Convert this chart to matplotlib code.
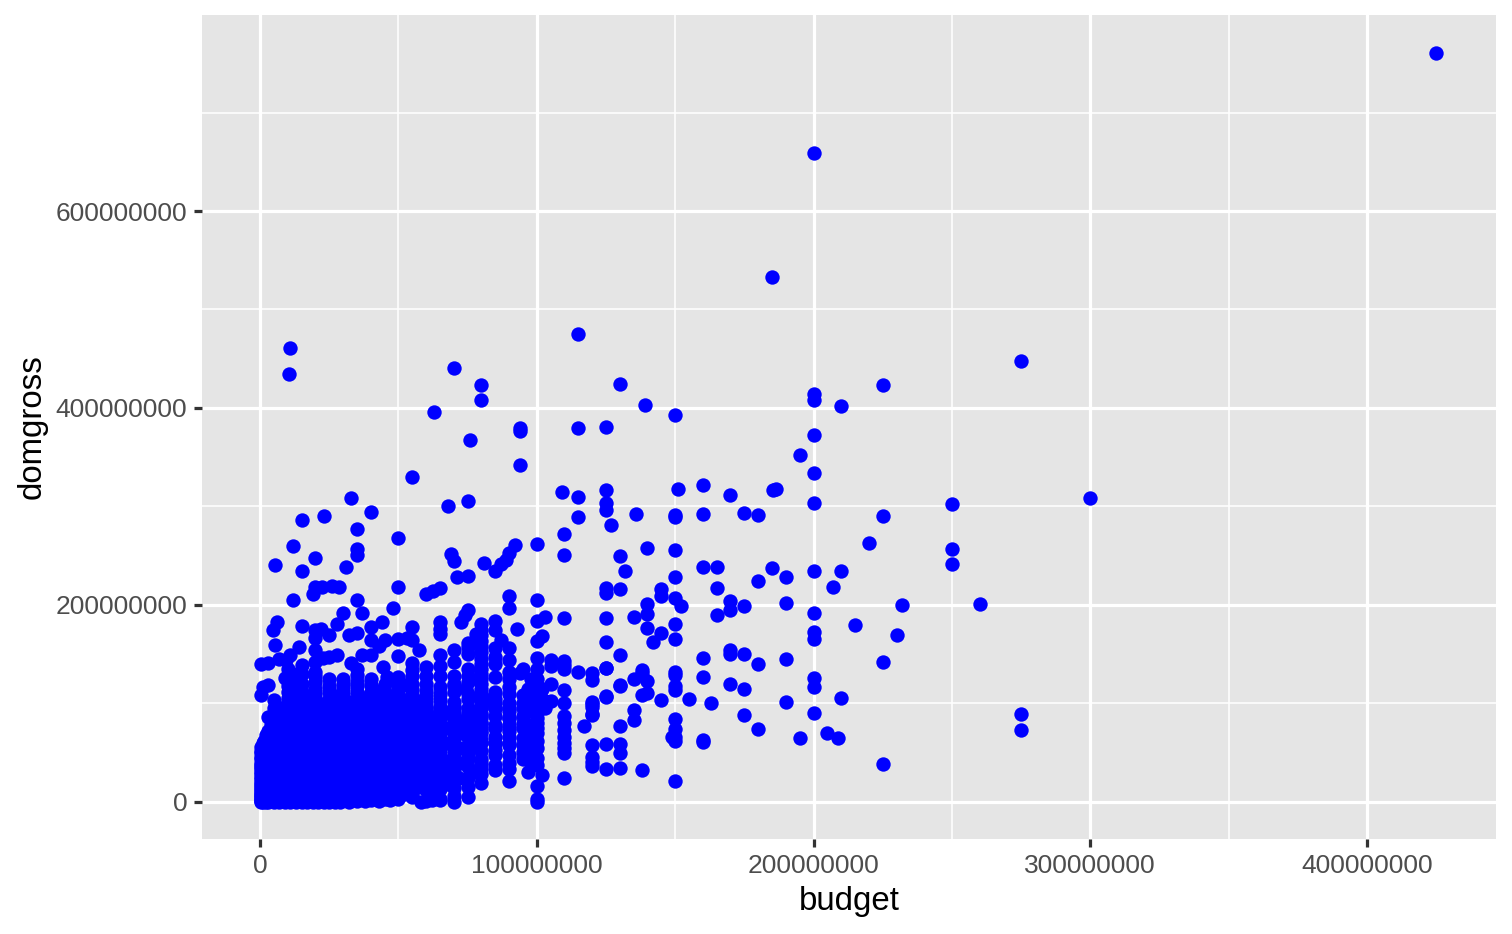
import matplotlib
matplotlib.use("Agg")
import matplotlib.pyplot as plt

# Values in millions of dollars: (budget, domgross)
outliers = [(425,760.5),(200,659),(185,533),(11,461),(10.5,435),(115,475),(70,441),(80,423),(80,408),(63,396),
    (130,424),(139,403),(150,393),(76,368),(94,380),(94,377),(94,342),(115,380),(125,381),(200,414),(200,408),
    (210,402),(225,423),(275,448),(195,352),(200,373),(200,334),(200,304),(300,309),(250,302.5),(225,290),
    (185.5,317),(186.5,318),(170,312),(175,293),(180,291),(160,322),(160,292),(151,318),(150,291),(150,289),
    (136,292),(125,317),(125,304),(125,296),(127,281),(115,310),(115,289),(109,315),(110,272),(100,262),(110,251)]
high_budget = [(130,250),(132,234),(140,258),(150,256),(160,238.5),(165,238.5),(185,237.5),(190,228.5),(220,263),
    (250,257),(250,241.5),(200,234.5),(210,234.5),(207,218),(180,224),(165,217),(150,228.5),(145,216),(145,209),
    (260,201),(232,200),(190,202),(170,204),(170,195),(175,199),(140,201),(150,207),(152,199),(125,217),(125,212),
    (130,216),(125,187),(135,188),(140,191),(140,177),(142,162),(145,172),(150,181),(150,165),(165,190),(200,192),
    (200,173),(200,165.5),(215,180),(230,170),(125,162),(130,149),(160,146),(170,154),(170,150),(175,150),(180,140),
    (190,145),(225,142),(160,127),(150,132),(150,129),(138,134),(138,131),(135,125),(140,123),(125,136),(115,132),
    (120,131),(120,124),(130,119),(125,108),(138,108.6),(140,110.6),(145,103.5),(150,118),(150,114),(155,104.6),
    (163,100.5),(170,120),(175,115),(200,126),(200,117),(210,105.6),(190,101.5),(175,88),(180,74),(195,65),(200,90),
    (205,70),(209,65),(225,38.6),(275,89),(275,73),(120,99.5),(120,89),(135,93.4),(135,83),(130,77),(117,77),(150,84),
    (150,74),(150,66),(150,62),(160,63),(160,61),(149,66),(120,58),(120,46),(120,37),(125,59),(125,33.5),(130,59),
    (130,50),(130,34.5),(138,32.5),(150,21.3)]
mid_budget = [(5.4,241),(12,260),(15,286),(23,290),(33,309),(40,294),(35,277),(35,257),(35,251),(50,268),(55,330),
    (68,300),(75,306),(69,252),(70,245),(92,261),(90,253),(89,246),(87,242),(81,243),(85,234),(75,229),(71,228),
    (65,217),(62.5,214),(60,211),(50,218),(20,248),(15,234.5),(12,205),(20,218),(22.5,218),(26,219),(28.5,218),
    (19,211),(31,239),(48,197),(35,205),(37,192),(30,192),(75,195),(74,190),(90,209),(90,197),(6,183),(4.8,175),
    (5.5,159),(15,179),(20,175),(25,170),(28,181),(44,183),(40,178),(40,164.5),(43,158),(45,164),(35,172),(32,170),
    (22,176),(20,166),(20,154),(20,132),(15,139),(14,157),(11,149),(7,145),(3,141),(0.4,140),(9.4,144),(28,149),
    (25,147.5),(22.6,146),(33,141),(37,149),(40,149),(44.5,137),(46,127),(50,127),(52,119),(35,129),(35,112),(30,120),
    (9,125.5),(13.5,124),(20,122),(3,119),(0.4,108.6),(1,117),(5,103.5),(10,112),(19,100),(25.6,110),(24,100),(32,102),
    (40,119),(44,114),(3,86.6),(5,83),(8,95),(3.4,66)]
right_cluster = [(65,117),(70,120),(74.5,115),(80,107),(82,103.5),(70,102),(75,95),(70,83),(65,85),(65,103.5),(60,107),
    (55,108.6),(50,107),(85,87),(90,85),(85,66),(85,53),(90,66),(80,63),(77,58),(75,49),(75,36),(75,15.5),(75,5.4),
    (70,14),(70,0.3),(65,19),(65,2),(62,2),(58,0.3),(55,7),(50,9),(72.5,183),(65,183),(65,176),(65,170.5),(80,181),
    (85,184),(85,175),(93,176),(78,171),(75,161),(75,157),(80,163),(85,156),(87,164),(90,156),(85,147.5),(90,144),
    (90,132),(94,131),(85,127),(85,112),(90,117),(90,100),(95,108.6),(95,95),(95,87),(95,65),(95,51),(95,44),(90,48),
    (85,48),(85,32),(90,21),(80,19),(80,44),(80,34),(70,154),(70,142),(65,149),(65,138),(75,135),(70,119),(60,137),
    (55,141),(55,134),(57.5,154),(55,164.5),(55,178),(53,166),(50,148),(50,165.5)]

column_budget = [100,102,103,105,110,120,125,130,98,97]
column_gross = [
    [205,184,163,146,135,125,120,110,100,97,90,85,80,75,70,62,55,45,38,16,3,0],
    [168,27,115,105],
    [188,103,95],
    [144,138,103,120],
    [187,143,139,135,114,100,87,80,73,66,60,55,50,24],
    [102,96,88,41],
    [107,136],
    [118],
    [125,105,92,78,62,40],
    [115,98,70,50,30],
]

fill_budget = [0.3,0.5,1,1.5,2,2.5,3,4,5,6,7,8,9,10,11,12,13,14,15,16,17,18,19,20,21,22,23,24,25,26,27,28,29,30,32,33,35,36,38,40,42,43,45,47,48,50,52,55,57,60,62,65,68,70,72,75,78,80,85,90]
fill_gross = [
    [0,2,5,8,12,16,20,25,30,35,40,46,52],
    [1,4,7,10,14,18,23,28,33,38,44,50,56],
    [0,3,6,9,13,17,22,27,32,37,43,49,55,60],
    [1,5,8,12,16,21,26,31,36,42,48,54,62],
    [0,2,6,10,15,20,25,30,35,41,47,53,60,68],
    [1,4,8,13,18,24,29,34,40,46,52,59,66],
    [0,3,7,11,16,22,28,33,39,45,51,58,65,72],
    [1,5,10,15,21,27,33,38,44,50,57,64,71,78],
    [0,3,8,13,18,24,30,36,42,48,55,62,69,75],
    [1,6,11,17,23,29,35,41,47,54,61,68,75,82],
    [0,4,9,15,21,27,33,40,46,53,60,67,74,85],
    [2,7,13,19,25,31,38,45,52,59,66,73,80,90],
    [0,5,11,17,24,30,37,44,51,58,65,72,80],
    [1,6,12,18,25,32,39,46,53,60,67,75,82,92],
    [0,4,10,16,23,30,37,44,52,59,66,74,84],
    [1,7,13,20,27,34,41,48,56,63,70,78,88,96],
    [0,5,11,18,25,32,40,47,54,62,70,77,85],
    [2,8,15,22,29,36,44,51,58,66,73,81,90,98],
    [0,4,10,17,24,31,39,46,54,61,69,77,86,94],
    [1,7,13,20,28,35,43,50,57,65,73,81,90],
    [0,5,11,18,26,33,41,49,57,64,72,80,88],
    [2,8,15,22,30,37,45,52,60,68,76,84,92],
    [0,4,10,17,24,32,40,47,55,63,71,79,87,95],
    [1,6,13,21,28,36,44,51,59,67,75,83,91],
    [0,4,10,17,25,32,40,48,56,64,72,80,86],
    [2,7,14,22,29,37,45,53,61,69,77,85],
    [0,5,11,18,26,34,42,50,58,66,74,82],
    [1,8,15,23,31,39,47,55,63,71,79,87,95],
    [0,4,11,19,27,35,43,51,59,67,75,83,91],
    [2,7,14,22,30,38,46,54,62,70,78,86,94,104],
    [0,5,12,20,28,36,44,52,60,68,76,84,92],
    [2,9,17,25,33,41,49,57,65,73,81,89,97],
    [0,5,13,21,29,37,45,53,61,69,77,85,93,101],
    [3,10,18,26,34,42,50,58,66,74,82,90,98],
    [0,6,14,22,30,38,46,54,62,70,78,86,94],
    [3,10,19,27,35,43,51,59,67,75,83,91,99],
    [1,8,16,24,32,40,48,56,64,72,80,88,96,104],
    [3,12,20,28,36,44,52,60,68,76,84,92,100],
    [1,8,16,25,33,41,49,57,65,73,81,89,97,106],
    [2,10,18,27,35,43,51,60,68,76,84,92,100,108],
    [4,12,20,29,37,45,54,62,70,79,87,95,103],
    [1,8,17,25,33,42,50,58,67,75,83,92,100],
    [3,11,20,28,37,45,54,62,71,79,88,96,105,112],
    [2,9,18,27,35,44,53,61,70,78,87,95,104],
    [5,13,22,31,40,49,58,67,76,85,94,103],
    [3,12,20,30,39,48,57,66,75,84,93,101],
    [8,17,26,35,44,53,62,71,80,89,98,104],
    [5,12,22,32,42,52,62,72,82,92,100],
    [15,27,38,50,60,72,82,94,103],
    [1,12,25,36,48,60,70,80,90,96],
    [8,18,30,42,54,65,76,86],
    [3,13,28,36,45,55,70,78,92,96],
    [18,30,42,60,75,90],
    [6,22,34,46,58,72,88,96],
    [24,40,55,70,82],
    [24,44,56,66,76,85,92],
    [30,62,80,92],
    [28,40,52,60,72,80,88,95],
    [38,60,75,95,105],
    [33,58,72,78,85,92],
]

upper_fill_budget = [5,10,12,15,20,25,30,35,40,45,50,55,60,65,70,75,80,85,90,95]
upper_fill_gross = [
    [95,90,78],
    [135,118,106,100,95],
    [130,116,104],
    [130,120,112,108,102,98],
    [142,128,115,110,106,102],
    [125,118,112,105],
    [125,115,110,105,100],
    [135,122,118,105],
    [125,112,105,100],
    [120,110,100],
    [120,115,110,100,98],
    [128,120,115,100,95,88,75,65,52,40,30,20],
    [128,120,113,100,92,85,75,65,50,40,30,22,15],
    [128,110,95,78,72,65,58,50,44,36,28],
    [128,112,96,90,76,70,64,58,52,44,38,30,22],
    [150,128,122,110,105,88,80,72,66,58],
    [175,170,158,152,145,140,135,130,125,120,115,110,100,95,90,85,80,75,70],
    [140,100,95,78,60],
    [125,110,95,75,60,40],
    [135,100,80,75,58],
]

x_major = [0, 100, 200, 300, 400]
x_minor = [50, 150, 250, 350]
y_major = [0, 200, 400, 600]
y_minor = [100, 300, 500, 700]
x_labels = ["0", "100000000", "200000000", "300000000", "400000000"]
y_labels = ["0", "200000000", "400000000", "600000000"]

budget, domgross = [], []
for group in (outliers, high_budget, mid_budget, right_cluster):
    for b, g in group:
        budget.append(b)
        domgross.append(g)
for groups_b, groups_g in ((column_budget, column_gross), (fill_budget, fill_gross),
                           (upper_fill_budget, upper_fill_gross)):
    for b, gs in zip(groups_b, groups_g):
        budget.extend([b] * len(gs))
        domgross.extend(gs)

plt.rcParams["font.family"] = ["Liberation Sans", "DejaVu Sans"]
W, H = 1512, 934
fig = plt.figure(figsize=(W / 216, H / 216), dpi=216, facecolor="white")
ax = fig.add_axes([202 / W, 1 - 839 / H, (1496 - 202) / W, (839 - 15) / H])
ax.set_facecolor("#E5E5E5")
for s in ax.spines.values():
    s.set_visible(False)

ax.scatter([b * 1e6 for b in budget], [g * 1e6 for g in domgross],
           s=23, c="#0000FF", linewidths=0, zorder=3)

ax.set_xlim(-20.96e6, 446.6e6)
ax.set_ylim(-37.6e6, 799e6)
ax.set_xticks([v * 1e6 for v in x_major])
ax.set_xticklabels(x_labels)
ax.set_yticks([v * 1e6 for v in y_major])
ax.set_yticklabels(y_labels)
ax.set_xticks([v * 1e6 for v in x_minor], minor=True)
ax.set_yticks([v * 1e6 for v in y_minor], minor=True)
ax.grid(True, which="major", color="white", linewidth=1.07, zorder=1)
ax.grid(True, which="minor", color="white", linewidth=0.53, zorder=1)
ax.set_axisbelow(True)
ax.tick_params(which="major", length=2.74, width=1.07, color="#333333",
               labelcolor="#4D4D4D", labelsize=8.8, pad=2.2)
ax.tick_params(which="minor", length=0)
ax.set_xlabel("budget", fontsize=11, color="black", labelpad=2.75)
ax.set_ylabel("domgross", fontsize=11, color="black", labelpad=2.75)
fig.savefig("out.png", dpi=216, facecolor="white")
